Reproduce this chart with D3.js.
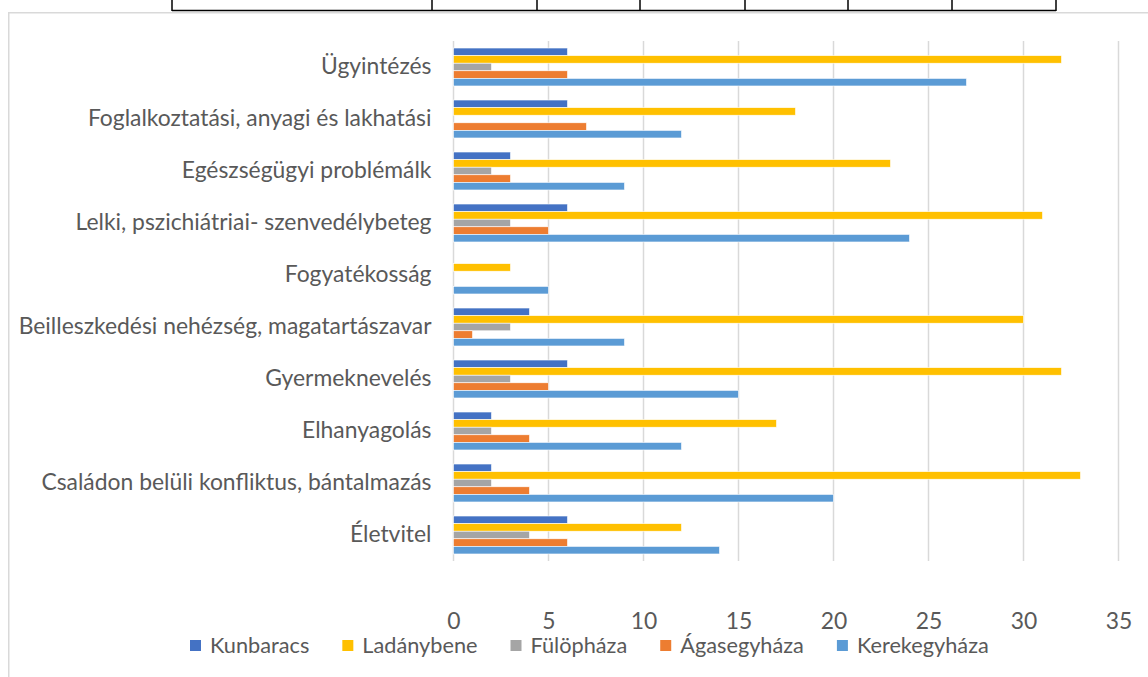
<!DOCTYPE html>
<html><head><meta charset="utf-8">
<script src="https://cdn.jsdelivr.net/npm/d3@7"></script>
<style>
html,body{margin:0;padding:0;background:#fff;}
svg{display:block;font-family:Lato,sans-serif;}
</style></head>
<body>
<svg id="chart" width="1148" height="677"></svg>
<script>
const categories = [
  "Ügyintézés",
  "Foglalkoztatási, anyagi és lakhatási",
  "Egészségügyi problémálk",
  "Lelki, pszichiátriai- szenvedélybeteg",
  "Fogyatékosság",
  "Beilleszkedési nehézség, magatartászavar",
  "Gyermeknevelés",
  "Elhanyagolás",
  "Családon belüli konfliktus, bántalmazás",
  "Életvitel"
];
const seriesNames = ["Kunbaracs", "Ladánybene", "Fülöpháza", "Ágasegyháza", "Kerekegyháza"];
const seriesColors = ["#4472C4", "#FFC000", "#A5A5A5", "#ED7D31", "#5B9BD5"];
const kunbaracs    = [6, 6, 3, 6, 0, 4, 6, 2, 2, 6];
const ladanybene   = [32, 18, 23, 31, 3, 30, 32, 17, 33, 12];
const fulophaza    = [2, 0, 2, 3, 0, 3, 3, 2, 2, 4];
const agasegyhaza  = [6, 7, 3, 5, 0, 1, 5, 4, 4, 6];
const kerekegyhaza = [27, 12, 9, 24, 5, 9, 15, 12, 20, 14];
const xTicks = [0, 5, 10, 15, 20, 25, 30, 35];

const seriesValues = [kunbaracs, ladanybene, fulophaza, agasegyhaza, kerekegyhaza];
const svg = d3.select("#chart");
const textColor = "#595959";

// top table fragment
const tableX = [172, 432, 537, 640, 745, 848, 952, 1056];
svg.append("line").attr("x1", 172).attr("x2", 1056).attr("y1", 10.5).attr("y2", 10.5)
  .attr("stroke", "#000").attr("stroke-width", 1.5);
svg.selectAll("line.tv").data(tableX).join("line").attr("class", "tv")
  .attr("x1", d => d).attr("x2", d => d).attr("y1", 0).attr("y2", 11)
  .attr("stroke", "#000").attr("stroke-width", 1.5);

// chart frame
svg.append("path").attr("d", "M8.75,680 V12.75 H1150")
  .attr("fill", "none").attr("stroke", "#d9d9d9").attr("stroke-width", 1.5);

const x = d3.scaleLinear().domain([0, 35]).range([453.5, 1118.5]);
const y = d3.scaleBand().domain(categories).range([41, 561]).paddingInner(0.27).paddingOuter(0.135);
const ys = d3.scaleBand().domain(seriesNames).range([0, y.bandwidth()]);

// gridlines
svg.append("g").selectAll("line").data(xTicks).join("line")
  .attr("x1", d => x(d)).attr("x2", d => x(d)).attr("y1", 41).attr("y2", 561)
  .attr("stroke", "#d9d9d9").attr("stroke-width", 1.5);

// fit font size to the longest label (≈413px in the reference)
const probe = svg.append("text").attr("font-size", 20).text(categories[5]);
const w20 = probe.node().getComputedTextLength();
probe.remove();
const fs = 20 * 413 / w20;

// bars
const groups = svg.append("g").selectAll("g").data(categories).join("g")
  .attr("transform", d => `translate(0,${y(d)})`);
groups.selectAll("rect").data((c, i) => seriesNames.map((s, j) => ({s, j, v: seriesValues[j][i]})))
  .join("rect")
  .attr("x", x(0))
  .attr("y", d => ys(d.s))
  .attr("width", d => Math.max(0, x(d.v) - x(0)))
  .attr("height", ys.bandwidth())
  .attr("fill", d => seriesColors[d.j])
  .attr("stroke", "#fff").attr("stroke-width", 0.6)
  .attr("display", d => d.v > 0 ? null : "none");

// y axis labels
const yAxis = d3.axisLeft(y).tickSize(0).tickPadding(22);
const yg = svg.append("g").attr("transform", `translate(${x(0)},0)`).call(yAxis);
yg.select(".domain").remove();
yg.selectAll("text").attr("font-size", fs).attr("fill", textColor).attr("font-family", "Lato");

// x axis labels
const xAxis = d3.axisBottom(x).tickValues(xTicks).tickSize(0).tickPadding(52);
const xg = svg.append("g").attr("transform", `translate(0,561)`).call(xAxis);
xg.select(".domain").remove();
xg.selectAll("text").attr("font-size", fs).attr("fill", textColor).attr("font-family", "Lato");

// legend
const leg = svg.append("g");
const lfs = fs * 0.95;
let lx = 190;
seriesNames.forEach((s, j) => {
  leg.append("rect").attr("x", lx).attr("y", 640).attr("width", 11).attr("height", 11).attr("fill", seriesColors[j]);
  const t = leg.append("text").attr("x", lx + 20).attr("y", 645.5).attr("dy", "0.35em")
    .attr("font-size", lfs).attr("fill", textColor).text(s);
  lx += 20 + t.node().getComputedTextLength() + 33;
});
</script>
</body></html>
